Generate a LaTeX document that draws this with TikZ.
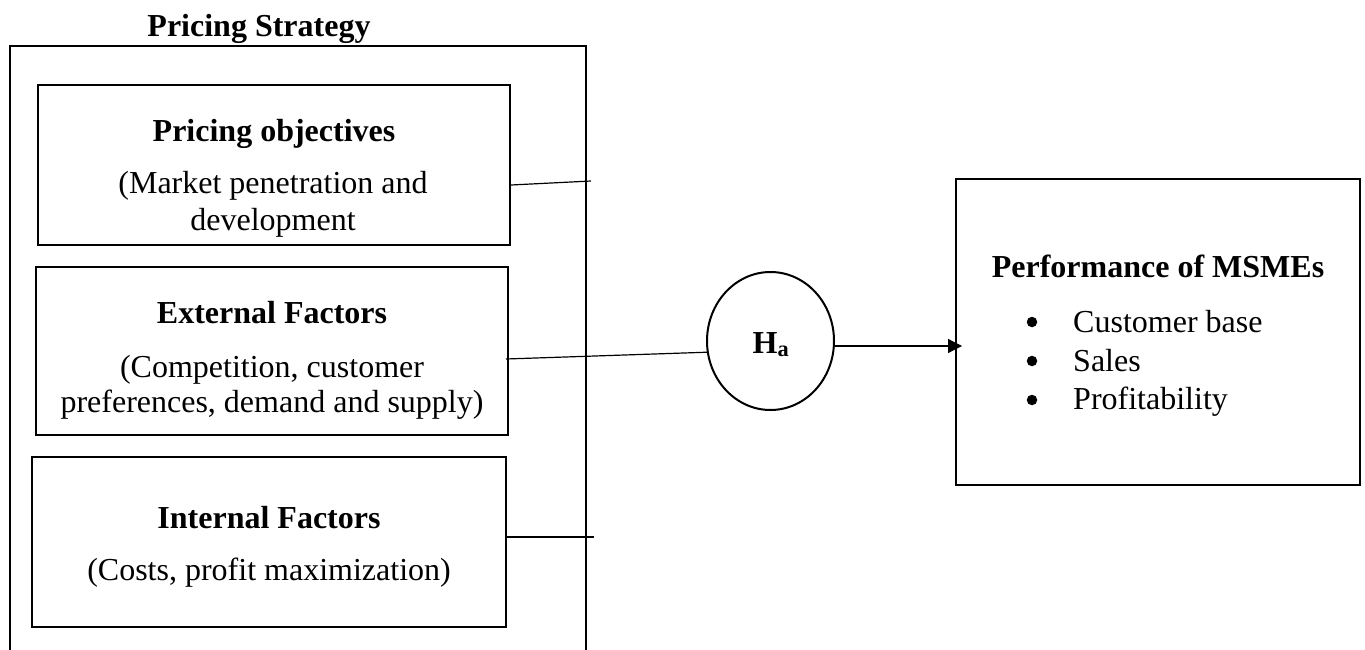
\documentclass[tikz,border=0pt]{standalone}
\usepackage{fontspec}
\setmainfont{Liberation Serif}
\usetikzlibrary{shapes.geometric,arrows.meta}
\begin{document}
\begin{tikzpicture}[x=1pt,y=-1pt,
  box/.style={draw,line width=2pt,rectangle,inner sep=0pt},
  lbl/.style={anchor=base,inner sep=0pt,font=\fontsize{32}{38}\selectfont},
  blbl/.style={anchor=base,inner sep=0pt,font=\fontsize{32}{38}\selectfont\bfseries},
  item/.style={anchor=base west,inner sep=0pt,font=\fontsize{32}{38}\selectfont},
  bul/.style={circle,fill=black,inner sep=0pt,minimum size=10.5pt},
  conn/.style={line width=1.2pt},
  arr/.style={conn,-{Triangle[length=14pt,width=14pt]}}]
\useasboundingbox (0,0) rectangle (1365,650);
\fill[white] (0,0) rectangle (1365,650);

% outer container (open at the bottom)
\draw[line width=2pt] (10,652) -- (10,46) -- (586,46) -- (586,652);
\node[blbl] (title) at (259,37) {Pricing Strategy};

% inner boxes
\node[box,minimum width=472.5pt,minimum height=160pt] (b1) at (273.75,165) {};
\node[box,minimum width=472pt,minimum height=168pt] (b2) at (272,351) {};
\node[box,minimum width=474pt,minimum height=170pt] (b3) at (269,542) {};

\node[blbl] (t1a) at (274,142) {Pricing objectives};
\node[lbl]  (t1b) at (273,193) {(Market penetration and};
\node[lbl]  (t1c) at (273,230) {development};

\node[blbl] (t2a) at (272,323) {External Factors};
\node[lbl]  (t2b) at (272,377) {(Competition, customer};
\node[lbl]  (t2c) at (272,412) {preferences, demand and supply)};

\node[blbl] (t3a) at (269,528) {Internal Factors};
\node[lbl]  (t3b) at (269,580) {(Costs, profit maximization)};

% hypothesis ellipse
\node[draw,ellipse,line width=2pt,minimum width=127pt,minimum height=138pt,inner sep=0pt] (h) at (770.5,341) {};
\node[blbl] (ht) at (771,353) {H\textsubscript{a}};

% performance box
\node[box,minimum width=404pt,minimum height=306pt] (p) at (1158,332) {};
\node[blbl] (pt) at (1158,277) {Performance of MSMEs};
\node[bul] (bu1) at (1032,322) {};
\node[bul] (bu2) at (1032,361) {};
\node[bul] (bu3) at (1032,400) {};
\node[item] (i1) at (1073,332) {Customer base};
\node[item] (i2) at (1073,371) {Sales};
\node[item] (i3) at (1073,409) {Profitability};

% connectors
\coordinate (e1) at (591,181);
\coordinate (e3) at (594,537);
\coordinate (ay) at (0,346);
\draw[conn] ([yshift=-20pt]b1.east) -- (e1);
\draw[conn] ([yshift=-8pt,xshift=-3pt]b2.east) -- (h.190);
\draw[conn] (b3.east |- e3) -- (e3);
\draw[arr,shorten >=-7pt] (h.east |- ay) -- (p.west |- ay);
\end{tikzpicture}
\end{document}
